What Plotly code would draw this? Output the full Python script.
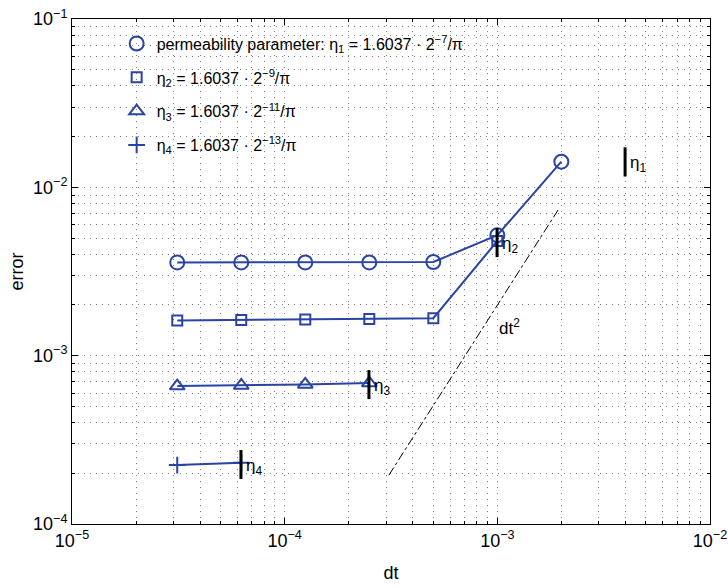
import math
import plotly.graph_objects as go

# ---- data ----
dt = [3.125e-5, 6.25e-5, 1.25e-4, 2.5e-4, 5e-4, 1e-3, 2e-3]
err_eta1 = [3.58e-3, 3.58e-3, 3.58e-3, 3.58e-3, 3.60e-3, 5.2e-3, 1.42e-2]
err_eta2 = [1.62e-3, 1.63e-3, 1.64e-3, 1.65e-3, 1.67e-3, 4.8e-3]
err_eta3 = [6.6e-4, 6.65e-4, 6.75e-4, 6.87e-4]
err_eta4 = [2.24e-4, 2.31e-4]

eta_vals = [3.988e-3, 9.97e-4, 2.49e-4, 6.23e-5]
eta_lo = [1.16e-2, 3.85e-3, 5.52e-4, 1.85e-4]
eta_hi = [1.73e-2, 5.73e-3, 8.21e-4, 2.75e-4]
eta_labels = ["η<sub>1</sub>", "η<sub>2</sub>", "η<sub>3</sub>", "η<sub>4</sub>"]

ref_dt = [3.09e-4, 1.93e-3]
ref_err = [1.95e-4, 7.33e-3]
ref_label_pos = (1.0e-3, 1.48e-3)

legend_names = [
    "permeability parameter: η<sub>1</sub> = 1.6037 · 2<sup>−7</sup>/π",
    "η<sub>2</sub> = 1.6037 · 2<sup>−9</sup>/π",
    "η<sub>3</sub> = 1.6037 · 2<sup>−11</sup>/π",
    "η<sub>4</sub> = 1.6037 · 2<sup>−13</sup>/π",
]

xtick_vals = [1e-5, 1e-4, 1e-3, 1e-2]
xtick_text = ["10<sup>−5</sup>", "10<sup>−4</sup>", "10<sup>−3</sup>", "10<sup>−2</sup>"]
ytick_vals = [1e-4, 1e-3, 1e-2, 1e-1]
ytick_text = ["10<sup>−4</sup>", "10<sup>−3</sup>", "10<sup>−2</sup>", "10<sup>−1</sup>"]

BLUE = "#2944a3"
FONT = "Liberation Sans, Arial, Helvetica, sans-serif"
GRID = "#808080"
GDASH = "1px,5px"

series = [err_eta1, err_eta2, err_eta3, err_eta4]
symbols = ["circle-open", "square-open", "triangle-up-open", "cross-thin-open"]
sizes = [14, 10, 13, 12]

fig = go.Figure()
for i, ys in enumerate(series):
    fig.add_trace(go.Scatter(
        x=dt[:len(ys)], y=ys, mode="lines+markers",
        showlegend=False, legendgroup=f"g{i}",
        line=dict(color=BLUE, width=2),
        marker=dict(symbol=symbols[i], size=sizes[i], color=BLUE,
                    line=dict(color=BLUE, width=2)),
    ))
    # legend entry: marker only
    fig.add_trace(go.Scatter(
        x=[None], y=[None], mode="markers", name=legend_names[i],
        legendgroup=f"g{i}",
        marker=dict(symbol=symbols[i], size=sizes[i], color=BLUE,
                    line=dict(color=BLUE, width=2)),
    ))

# eta bars
for i in range(4):
    fig.add_trace(go.Scatter(
        x=[eta_vals[i], eta_vals[i]], y=[eta_lo[i], eta_hi[i]],
        mode="lines", line=dict(color="black", width=3),
        showlegend=False, hoverinfo="skip"))
    fig.add_annotation(
        x=math.log10(eta_vals[i]),
        y=(math.log10(eta_lo[i]) + math.log10(eta_hi[i])) / 2,
        xref="x", yref="y", text=eta_labels[i], showarrow=False,
        xanchor="left", yanchor="middle", xshift=3, yshift=-2,
        font=dict(family=FONT, size=17, color="black"))

# dt^2 reference line
fig.add_trace(go.Scatter(
    x=ref_dt, y=ref_err, mode="lines",
    line=dict(color="black", width=1, dash="dashdot"),
    showlegend=False, hoverinfo="skip"))
fig.add_annotation(
    x=math.log10(ref_label_pos[0]), y=math.log10(ref_label_pos[1]),
    xref="x", yref="y",
    text="dt<sup>2</sup>", showarrow=False, xanchor="left", yanchor="middle",
    font=dict(family=FONT, size=17, color="black"))

minor_x = [m * 10 ** e for e in range(-5, -2) for m in range(2, 10)]
minor_y = [m * 10 ** e for e in range(-4, -1) for m in range(2, 10)]

axis_common = dict(
    type="log", showline=True, linecolor="black", linewidth=1, mirror="ticks",
    ticks="inside", ticklen=6, tickcolor="black", tickwidth=1,
    showgrid=True, gridcolor=GRID, griddash=GDASH, gridwidth=1,
    zeroline=False, automargin=False,
    tickfont=dict(family=FONT, size=18, color="black"),
)

fig.update_xaxes(
    range=[-5, -2], tickmode="array", tickvals=xtick_vals, ticktext=xtick_text,
    title=dict(text="dt", font=dict(family=FONT, size=18, color="black"), standoff=16),
    minor=dict(tickmode="array", tickvals=minor_x, ticks="inside", ticklen=3,
               tickcolor="black", showgrid=True, gridcolor=GRID,
               griddash=GDASH, gridwidth=1),
    **axis_common)
fig.update_yaxes(
    range=[-4, -1], tickmode="array", tickvals=ytick_vals, ticktext=ytick_text,
    title=dict(text="error", font=dict(family=FONT, size=18, color="black"), standoff=4),
    minor=dict(tickmode="array", tickvals=minor_y, ticks="inside", ticklen=3,
               tickcolor="black", showgrid=True, gridcolor=GRID,
               griddash=GDASH, gridwidth=1),
    **axis_common)

fig.update_layout(
    width=728, height=588,
    margin=dict(l=72, r=18, t=19, b=64),
    paper_bgcolor="white", plot_bgcolor="white",
    font=dict(family=FONT, size=16, color="black"),
    legend=dict(x=0.07, y=0.985, xanchor="left", yanchor="top",
                bgcolor="rgba(0,0,0,0)", borderwidth=0,
                tracegroupgap=10,
                font=dict(family=FONT, size=16, color="black")),
    showlegend=True,
)

fig.write_html("out.html")
